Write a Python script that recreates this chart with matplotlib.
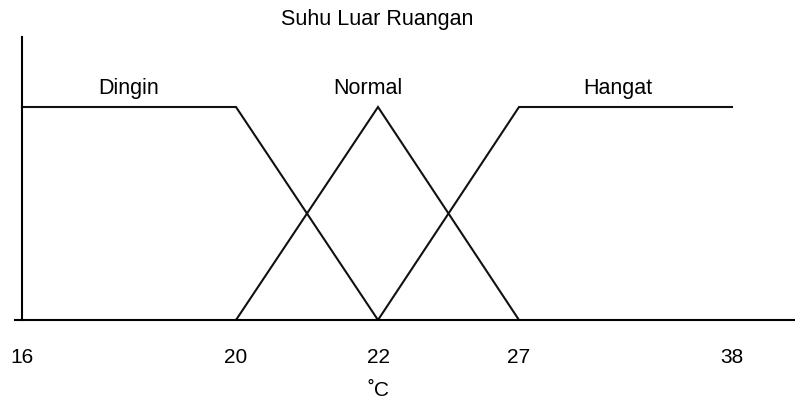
import numpy as np
import matplotlib
matplotlib.use("Agg")
import matplotlib.pyplot as plt

plt.rcParams['font.family'] = ['Liberation Sans', 'DejaVu Sans']

# Membership functions for "Suhu Luar Ruangan"
dingin_x = [16, 20, 22]
dingin_y = [1, 1, 0]
normal_x = [20, 22, 27]
normal_y = [0, 1, 0]
hangat_x = [22, 27, 38]
hangat_y = [0, 1, 1]

tick_values = [16, 20, 22, 27, 38]
tick_labels = ["16", "20", "22", "27", "38"]

# The axis in the picture is not linear: ticks sit at these screen slots
brk_t = np.array([10, 16, 20, 22, 27, 38, 50])
brk_p = np.array([22 - 321, 22, 236, 378, 519, 732, 732 + 232])


def fwd(t):
    return np.interp(t, brk_t, brk_p)


def inv(p):
    return np.interp(p, brk_p, brk_t)


fig = plt.figure(figsize=(7.95, 4.03), dpi=100)
ax = fig.add_axes([15 / 795, 83 / 403, 780 / 795, 283 / 403])
ax.set_xscale('function', functions=(fwd, inv))

for xs, ys in [(dingin_x, dingin_y), (normal_x, normal_y), (hangat_x, hangat_y)]:
    ax.plot(xs, ys, color='#111111', lw=1.5, solid_joinstyle='miter')

ax.set_xlim(inv(15), inv(795))
ax.set_ylim(0, 283 / 213)

ax.spines['top'].set_visible(False)
ax.spines['right'].set_visible(False)
ax.spines['left'].set_position(('data', 16))
ax.spines['left'].set_linewidth(1.5)
ax.spines['bottom'].set_linewidth(1.5)

ax.set_yticks([])
ax.set_xticks(tick_values)
ax.set_xticklabels(tick_labels, fontsize=15)
ax.xaxis.set_minor_locator(matplotlib.ticker.NullLocator())
ax.tick_params(axis='x', length=0, pad=20.5)

ax.text(18, 1.085, "Dingin", ha='center', va='center', fontsize=15.5)
ax.text(21.86, 1.085, "Normal", ha='center', va='center', fontsize=15.5)
ax.text(32.1, 1.085, "Hangat", ha='center', va='center', fontsize=15.5)

fig.text(377 / 795, 1 - 19 / 403, "Suhu Luar Ruangan", ha='center', va='center', fontsize=15.5)
fig.text(378 / 795, 1 - 391 / 403, "˚C", ha='center', va='center', fontsize=15)

fig.savefig("out.png", dpi=100)
